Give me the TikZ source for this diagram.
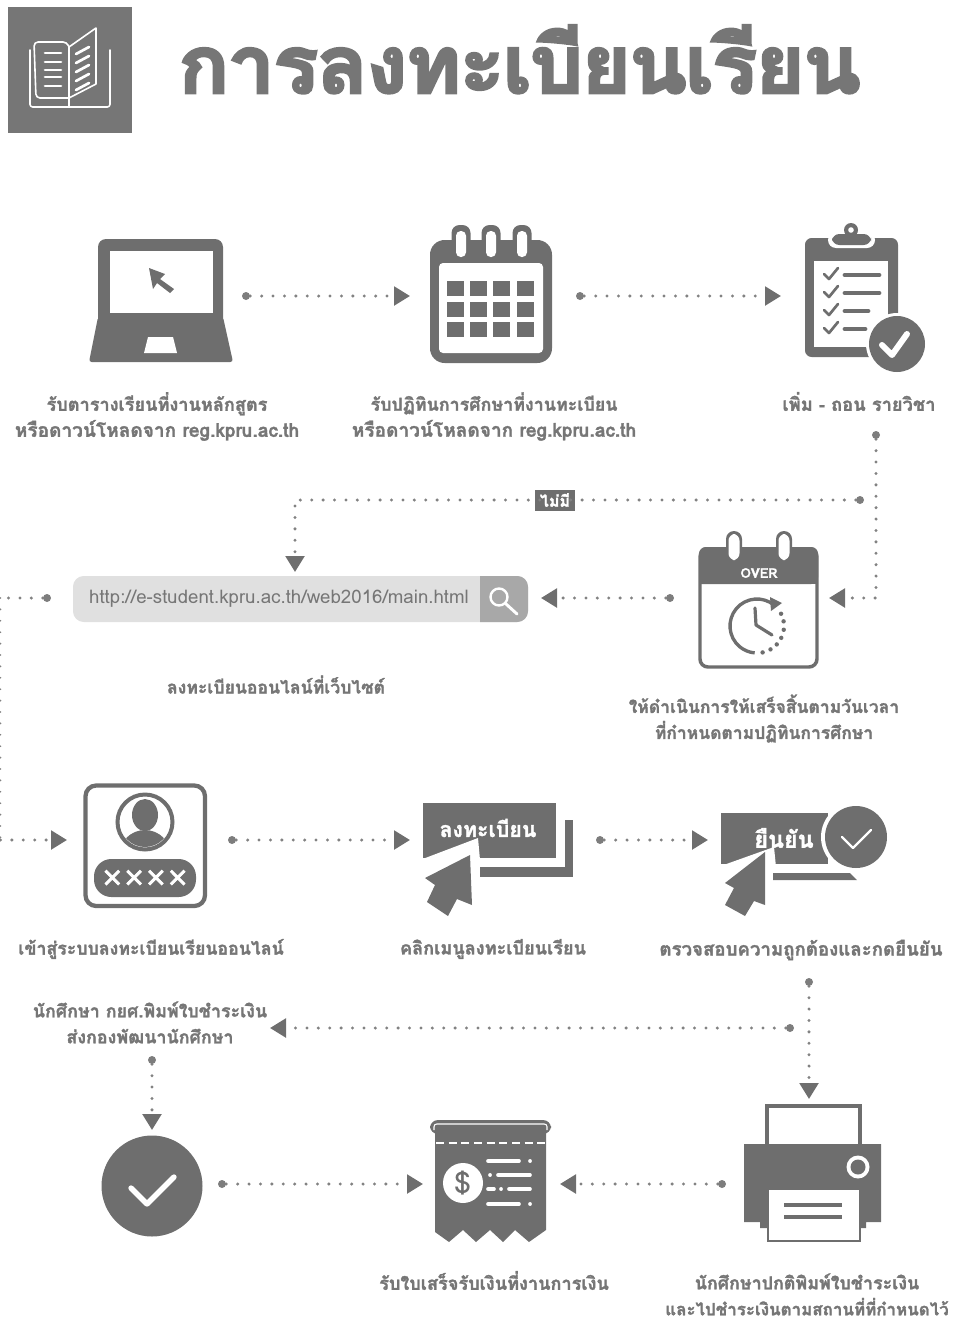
\documentclass[tikz,border=0pt]{standalone}
\usepackage{fontspec}
\usetikzlibrary{arrows.meta}
\newfontfamily\thaif[Script=Thai,FakeBold=1.6]{Loma Bold}
\newfontfamily\urlf[Script=Thai]{Loma}
\newfontfamily\titlef[Script=Thai,FakeBold=3.2,FakeStretch=1.06,LetterSpace=-2.6]{Loma Bold}
\newfontfamily\crossf[FakeBold=3]{DejaVu Sans}
\definecolor{ink}{HTML}{6E6E6E}
\definecolor{txt}{HTML}{767676}
\definecolor{dotc}{HTML}{828282}
\tikzset{
  x=0.75pt,y=-0.75pt,
  lbl/.style={text=txt,align=center,inner sep=0pt,font=\thaif\fontsize{#1}{19.5}\selectfont},
  wtxt/.style={text=white,inner sep=0pt,font=\thaif\fontsize{#1}{19}\selectfont},
  dotnode/.style={circle,fill=ink!90,inner sep=0pt,minimum size=6pt},
  flow/.style={draw=dotc,line width=2.5pt,line cap=round,dash pattern=on 0pt off 8.55pt,
     -{Triangle[length=12pt,width=14pt,color=ink,sep=0pt]}},
  plain/.style={draw=dotc,line width=2.5pt,line cap=round,dash pattern=on 0pt off 8.55pt},
  wline/.style={draw=white,line cap=round,line join=round},
  gline/.style={draw=ink,line cap=round,line join=round},
}
\begin{document}
\begin{tikzpicture}
\useasboundingbox (0,0) rectangle (955,1321);
% ---------- title
\fill[txt] (8,7) rectangle (132,133);
\begin{scope}[wline,line width=1.2pt]
  \draw[rounded corners=2pt] (30,50) -- (30,107) -- (110,107) -- (110,50);
  \draw[rounded corners=3pt] (69,98) -- (36,98) -- (34,42) -- (67,42) -- (69,47);
  \draw (69,47) -- (96,28) -- (96,84) -- (69,98) -- cycle;
  \draw (69,98) -- (69,107);
  \foreach \yy in {53,62,70,77,86} \draw[line width=2pt] (45,\yy) -- (61,\yy);
  \foreach \yy in {54,63,72,81,90} \draw[line width=2pt] (76,\yy) -- (89,\yy-7);
\end{scope}
\node[anchor=base west,text=txt,inner sep=0pt,font=\titlef\fontsize{60}{70}\selectfont] (title) at (178,93) {การลงทะเบียนเรียน};

% ---------- laptop
\fill[ink,rounded corners=6pt] (98,330) -- (98,239) -- (223,239) -- (223,330) -- cycle;
\fill[ink,rounded corners=2pt] (98,317) -- (223,317) -- (233,362) -- (89,362) -- cycle;
\fill[white] (110,251) rectangle (213,313);
\fill[white] (148,337) -- (173,337) -- (177,353) -- (144,353) -- cycle;
\fill[ink] (149,268) -- (165,274) -- (160,279) -- (174,289) -- (170,293) -- (157,283) -- (153,289) -- cycle;
\node[lbl=13.6] (t1) at (157,416.5) {รับตารางเรียนที่งานหลักสูตร\\\fontsize{14.3}{19.5}\selectfont หรือดาวน์โหลดจาก reg.kpru.ac.th};

% ---------- calendar
\fill[ink,rounded corners=11pt] (430,240) rectangle (552,363);
\fill[white,rounded corners=3pt] (439,263) rectangle (543,353);
\foreach \cx in {461,491,522} {
  \fill[ink,rounded corners=6pt] (\cx-9.5,225) rectangle (\cx+9.5,259);
  \fill[white,rounded corners=3.5pt] (\cx-5,231) rectangle (\cx+5,257);
}
\foreach \cx in {447,470,493,517} \foreach \cy in {281,302,322}
  \fill[ink] (\cx,\cy) rectangle (\cx+17,\cy+15);
\node[lbl=13.4] (t2) at (494,416.5) {รับปฏิทินการศึกษาที่งานทะเบียน\\\fontsize{14.3}{19.5}\selectfont หรือดาวน์โหลดจาก reg.kpru.ac.th};

% ---------- clipboard
\fill[ink,rounded corners=5pt] (805,238) rectangle (898,357);
\fill[white] (814,261) rectangle (888,347);
\fill[white,rounded corners=6pt] (828,232) rectangle (875,248);
\fill[ink,rounded corners=5.5pt] (832,234) rectangle (871,245);
\fill[ink] (851,230) circle (7);
\fill[white] (851,230) circle (2.8);
\fill[ink] (838,234) rectangle (864,240);
\fill[white] (897,344) circle (31);
\fill[ink] (897,344) circle (28);
\draw[wline,line width=4.5pt] (882,345) -- (892,355) -- (907,334);
\foreach \yy/\xe in {275/879,293/879,311/868,329/865} {
  \draw[gline,line width=2pt] (824,\yy-1) -- (829,\yy+4) -- (838,\yy-7);
  \draw[gline,line width=3.6pt] (845,\yy) -- (\xe,\yy);
}
\node[lbl=13.7] (t3) at (859,401.5) {เพิ่ม - ถอน รายวิชา};

% ---------- search bar
\fill[black!12,rounded corners=8pt] (73,576) rectangle (528,622);
\begin{scope}
  \clip[rounded corners=8pt] (73,576) rectangle (528,622);
  \fill[black!34] (480,570) rectangle (530,628);
\end{scope}
\draw[white,line width=1.8pt] (499,597) circle (8.5);
\draw[white,line width=2.2pt,line cap=round] (505.5,603.5) -- (517,614);
\node[text=txt,inner sep=0pt,font=\urlf\fontsize{14}{15}\selectfont] (url) at (279,599) {http://e-student.kpru.ac.th/web2016/main.html};
\node[lbl=13.2] (t4) at (276,684.5) {ลงทะเบียนออนไลน์ที่เว็บไซต์};

% ---------- over calendar
\draw[ink,line width=2.6pt,rounded corners=6pt,fill=white] (700,549) rectangle (817,667);
\fill[ink,rounded corners=5pt] (699,584) -- (699,547) -- (818,547) -- (818,584) [sharp corners] -- cycle;
\fill[ink] (699,575) rectangle (818,584);
\foreach \cx in {734,784} {
  \fill[ink,rounded corners=6pt] (\cx-8,531) rectangle (\cx+8,563);
  \fill[white,rounded corners=5pt] (\cx-5.5,534) rectangle (\cx+5.5,560);
}
\node[wtxt=10] (over) at (759,573) {OVER};
\draw[ink,line width=2.5pt] (757,626) ++(-50:27) arc[start angle=-50,end angle=-265,radius=27];
\fill[ink] (782,603) -- (770,597) -- (771,611) -- cycle;
\foreach \ang in {78,60,43,26,8,-10,-27} \fill[ink] (757,626) ++(\ang:27) circle (2.2);
\draw[gline,line width=2.4pt] (755,608) -- (756,625) -- (772,635);
\node[lbl=13.1] (t5) at (764,718.5) {ให้ดำเนินการให้เสร็จสิ้นตามวันเวลา\\ที่กำหนดตามปฏิทินการศึกษา};

% ---------- login
\draw[ink,line width=3.2pt,rounded corners=8pt] (85.5,785.5) rectangle (205,906);
\begin{scope}
  \clip (145,822) circle (25);
  \fill[ink] (145,856) ellipse [x radius=26,y radius=26];
\end{scope}
\fill[ink] (145,815) ellipse [x radius=13,y radius=16];
\draw[ink,line width=3pt] (145,822) circle (27.5);
\fill[ink,rounded corners=13pt] (94,859) rectangle (196,897);
\node[text=white,inner sep=0pt,font=\crossf\fontsize{19.5}{22}\selectfont] (xxxx) at (145,878) {××××};
\node[lbl=13.3] (t6) at (151,949) {เข้าสู่ระบบลงทะเบียนเรียนออนไลน์};

% ---------- menu
\fill[ink] (423,803) rectangle (556,858);
\fill[ink] (565,820) rectangle (573,877);
\fill[ink] (480,867) rectangle (573,877);
\fill[white] (478,838) -- (420,860) -- (480,860) -- cycle;
\fill[ink] (470,855) -- (425,878) -- (435,885) -- (427,902) -- (448,916) -- (457,899) -- (472,905) -- cycle;
\node[wtxt=16] (menu) at (488,828) {ลงทะเบียน};
\node[lbl=13.6] (t7) at (493,949) {คลิกเมนูลงทะเบียนเรียน};

% ---------- confirm
\fill[ink] (721,813) rectangle (828,864);
\fill[ink] (773,873) -- (850,873) -- (857,880) -- (773,880) -- cycle;
\fill[white] (774,847) -- (718,867) -- (776,867) -- cycle;
\fill[ink] (765,852) -- (725,883) -- (734,888) -- (725,905) -- (745,916) -- (754,901) -- (765,905) -- cycle;
\fill[white] (856,837) circle (35);
\fill[ink] (856,837) circle (31);
\draw[wline,line width=1.8pt] (842,837) -- (853,848) -- (871,830);
\node[wtxt=17.5] (conf) at (784,838) {ยืนยัน};
\node[lbl=14] (t8) at (801,950) {ตรวจสอบความถูกต้องและกดยืนยัน};

% ---------- student text and check
\node[lbl=13.4] (t9) at (150,1022.5) {นักศึกษา กยศ.พิมพ์ใบชำระเงิน\\ส่งกองพัฒนานักศึกษา};
\fill[ink] (152,1186) circle (50.5);
\draw[wline,line width=4pt] (131,1188) -- (147,1204) -- (174,1177);

% ---------- receipt
\fill[ink] (435,1130) -- (546,1130) -- (546,1230) -- (529,1242) -- (515,1230) -- (503,1242) -- (490,1230) -- (476,1242) -- (463,1230) -- (449,1242) -- (435,1232) -- cycle;
\fill[ink,rounded corners=6pt] (430,1120) rectangle (551,1134);
\draw[white,line width=0.8pt,rounded corners=2pt] (434,1130) -- (434,1124) -- (547,1124) -- (547,1130);
\draw[white,line width=2.2pt,dash pattern=on 6pt off 3.5pt] (436,1143) -- (546,1143);
\fill[white] (463,1183) circle (20);
\node[text=ink,inner sep=0pt,font=\urlf\fontsize{23}{26}\selectfont] (dollar) at (463,1183) {\$};
\begin{scope}[wline,line width=2.7pt]
  \draw (488,1161) -- (519,1161); \draw (530,1161) -- (530.1,1161);
  \draw (490,1175) -- (490.1,1175); \draw (498,1175) -- (530,1175);
  \draw (488,1189) -- (494,1189); \draw (501,1189) -- (501.1,1189); \draw (509,1189) -- (530,1189);
  \draw (488,1204) -- (519,1204); \draw (530,1204) -- (530.1,1204);
\end{scope}
\node[lbl=13.6] (t10) at (494,1280.5) {รับใบเสร็จรับเงินที่งานการเงิน};

% ---------- printer
\draw[ink,line width=2.4pt] (767,1144) -- (767,1106) -- (860,1106) -- (860,1144);
\fill[ink] (744,1144) -- (881,1144) -- (881,1222) -- (866,1222) -- (866,1228) -- (860,1228) -- (760,1228) -- (760,1222) -- (744,1222) -- cycle;
\draw[ink,line width=2.2pt,fill=white] (768,1189) rectangle (860,1241);
\draw[ink,line width=2.8pt] (784,1205) -- (842,1205) (784,1217) -- (842,1217);
\fill[white] (858,1167) circle (11.5);
\fill[ink] (858,1167) circle (7.5);
\node[lbl=13.4] (t11) at (807,1294.5) {นักศึกษาปกติพิมพ์ใบชำระเงิน\\\fontsize{12.7}{19.5}\selectfont และไปชำระเงินตามสถานที่ที่กำหนดไว้};

% ---------- "no" tag
\fill[ink] (535,490) rectangle (575,511);
\node[wtxt=12] (no) at (555,500) {ไม่มี};

% ---------- connector ends
\node[dotnode] (a1) at (246,296) {};   \coordinate (b1) at (410,296);
\node[dotnode] (a2) at (580,296) {};   \coordinate (b2) at (781,296);
\node[dotnode] (a3) at (876,435) {};   \coordinate (c3) at (876,598); \coordinate (b3) at (829,598);
\node[dotnode] (a4) at (860,500) {};   \coordinate (c4) at (295,500); \coordinate (b4) at (295,572);
\node[dotnode] (a5) at (670,598) {};   \coordinate (b5) at (541,598);
\node[dotnode] (a6) at (47,598) {};    \coordinate (c6a) at (0.5,598); \coordinate (c6b) at (0.5,840); \coordinate (b6) at (67,840);
\node[dotnode] (a7) at (232,840) {};   \coordinate (b7) at (410,840);
\node[dotnode] (a8) at (600,840) {};   \coordinate (b8) at (708,840);
\node[dotnode] (a9) at (809,982) {};   \coordinate (b9) at (809,1099);
\node[dotnode] (a10) at (790,1028) {}; \coordinate (b10) at (270,1028);
\node[dotnode] (a11) at (152,1060) {}; \coordinate (b11) at (152,1130);
\node[dotnode] (a12) at (222,1184) {}; \coordinate (b12) at (423,1184);
\node[dotnode] (a13) at (722,1184) {}; \coordinate (b13) at (560,1184);
% ---------- connectors
\draw[flow] (a1) -- (b1);
\draw[flow] (a2) -- (b2);
\draw[flow] (a3) -- (c3) -- (b3);
\draw[plain] (a4) -- (no);
\draw[flow] (no) -- (c4) -- (b4);
\draw[flow] (a5) -- (b5);
\draw[plain,line width=1.4pt] (c6a) -- (c6b);
\draw[plain] (a6) -- (c6a);
\draw[flow] (c6b) -- (b6);
\draw[flow] (a7) -- (b7);
\draw[flow] (a8) -- (b8);
\draw[flow] (a9) -- (b9);
\draw[flow] (a10) -- (b10);
\draw[flow] (a11) -- (b11);
\draw[flow] (a12) -- (b12);
\draw[flow] (a13) -- (b13);
\end{tikzpicture}
\end{document}
